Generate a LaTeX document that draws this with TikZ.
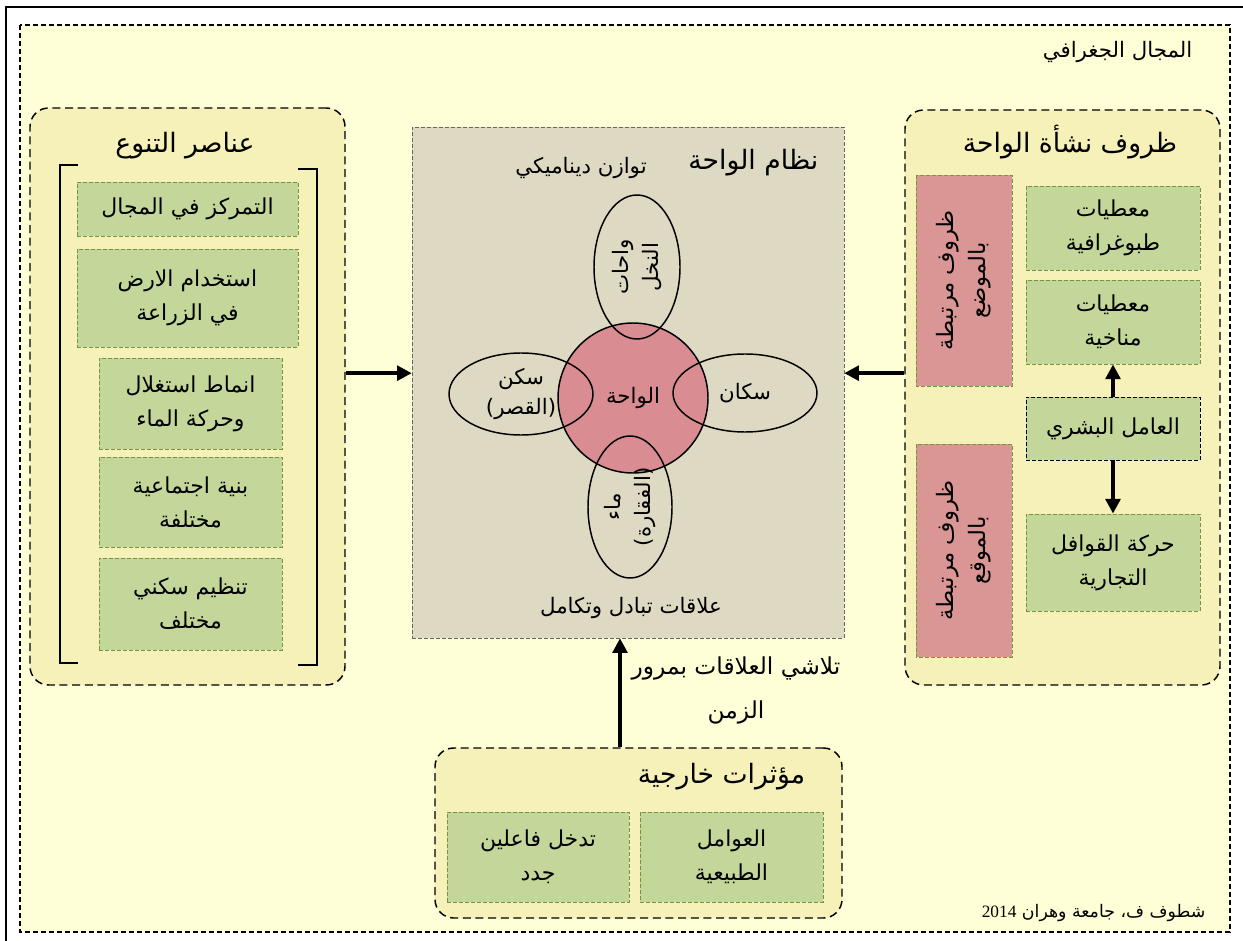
\documentclass[tikz,border=0pt]{standalone}
\usepackage{fontspec}
\usepackage{tikz}
\usetikzlibrary{shapes.geometric,arrows.meta}
\TeXXeTstate=1
\setmainfont{Liberation Serif}
\newfontfamily\arabicfont[Script=Arabic]{DejaVu Sans}
\newcommand{\artxt}[1]{{\arabicfont\beginR #1\endR}}
\definecolor{paper}{RGB}{255,255,215}
\definecolor{groupfill}{RGB}{246,241,184}
\definecolor{greenfill}{RGB}{196,215,155}
\definecolor{greenline}{RGB}{119,147,60}
\definecolor{pinkfill}{RGB}{217,150,148}
\definecolor{systemfill}{RGB}{221,217,195}
\definecolor{oasisfill}{RGB}{217,140,146}

\begin{document}
\begin{tikzpicture}[x=0.75pt,y=-0.75pt,
  groupbox/.style={draw,dash pattern=on 6pt off 3.5pt,line width=1.1pt,rounded corners=14pt,fill=groupfill,inner sep=0pt},
  itembox/.style={draw=greenline,dash pattern=on 3pt off 1.5pt,line width=0.6pt,fill=greenfill,align=center,inner sep=0pt,font=\fontsize{16.5}{25.5}\selectfont},
  pinkbox/.style={itembox,fill=pinkfill,rotate=90,font=\fontsize{17}{24}\selectfont},
  petal/.style={draw,ellipse,line width=1.1pt,inner sep=0pt,align=center,font=\fontsize{16}{22}\selectfont},
  heading/.style={font=\fontsize{20}{24}\selectfont},
  plain/.style={font=\fontsize{16}{19}\selectfont},
  bigarrow/.style={line width=2.8pt,-{Triangle[length=11pt,width=11pt]}}]
\useasboundingbox (0,0) rectangle (1243,941);
\draw[line width=1.5pt] (6,941) -- (6,7) -- (1243,7);
\draw[dash pattern=on 4pt off 2pt,line width=1.4pt,fill=paper] (20,25) rectangle (1230,932);
\node[plain,anchor=east] (field) at (1197,52) {\artxt{المجال الجغرافي}};

\node[groupbox,minimum width=236.25pt,minimum height=432.75pt] (diversity) at (187.5,396.5) {};
\node[heading] (divtitle) at (185,146) {\artxt{عناصر التنوع}};
\draw[line width=1pt] (78,165) -- (60,165) -- (60,663) -- (78,663);
\draw[line width=1pt] (298,169) -- (317,169) -- (317,665) -- (298,665);
\node[itembox,minimum width=165.75pt,minimum height=40.5pt] (concentration) at (187.5,209) {\artxt{التمركز في المجال}};
\node[itembox,minimum width=165.75pt,minimum height=73.5pt] (landuse) at (187.5,298) {\artxt{استخدام الارض}\\\artxt{في الزراعة}};
\node[itembox,minimum width=137.25pt,minimum height=68.25pt] (watermode) at (190.5,403.5) {\artxt{انماط استغلال}\\\artxt{وحركة الماء}};
\node[itembox,minimum width=137.25pt,minimum height=67.5pt] (social) at (190.5,502) {\artxt{بنية اجتماعية}\\\artxt{مختلفة}};
\node[itembox,minimum width=137.25pt,minimum height=69pt] (housing) at (190.5,604) {\artxt{تنظيم سكني}\\\artxt{مختلف}};

\node[draw=black!60,dash pattern=on 3pt off 1.5pt,fill=systemfill,minimum width=324pt,minimum height=383.25pt,inner sep=0pt] (system) at (628,382.5) {};
\node[heading,anchor=east] (systitle) at (823,163) {\artxt{نظام الواحة}};
\node[plain] (balance) at (581,168) {\artxt{توازن ديناميكي}};
\node[circle,draw,line width=1.1pt,fill=oasisfill,minimum size=112.5pt,inner sep=0pt,plain] (oasis) at (633,398) {\artxt{الواحة}};
\node[petal,rotate=90,minimum width=108pt,minimum height=64.5pt] (palm) at (637,267) {\artxt{واحات}\\\artxt{النخل}};
\node[petal,rotate=90,minimum width=106.5pt,minimum height=63pt] (water) at (630,507) {\artxt{ماء}\\\artxt{(الفقارة)}};
\node[petal,minimum width=108pt,minimum height=61.5pt] (ksar) at (521,394) {\artxt{سكن}\\\artxt{(القصر)}};
\node[petal,minimum width=108pt,minimum height=58.5pt] (people) at (745,393) {\artxt{سكان}};
\node[plain] (exchange) at (631,608) {\artxt{علاقات تبادل وتكامل}};

\node[groupbox,minimum width=236.25pt,minimum height=431.25pt] (genesis) at (1062.5,397.5) {};
\node[heading] (gentitle) at (1070,142) {\artxt{ظروف نشأة الواحة}};
\node[pinkbox,minimum width=158.25pt,minimum height=72pt] (site) at (964,280.5) {\artxt{ظروف مرتبطة}\\\artxt{بالموضع}};
\node[pinkbox,minimum width=159.75pt,minimum height=72pt] (location) at (964,550.5) {\artxt{ظروف مرتبطة}\\\artxt{بالموقع}};
\node[itembox,minimum width=130.5pt,minimum height=63pt] (topo) at (1113,228) {\artxt{معطيات}\\\artxt{طبوغرافية}};
\node[itembox,minimum width=130.5pt,minimum height=63pt] (climate) at (1113,322) {\artxt{معطيات}\\\artxt{مناخية}};
\node[itembox,draw=black,minimum width=130.5pt,minimum height=47.25pt] (human) at (1113,428.5) {\artxt{العامل البشري}};
\node[itembox,minimum width=130.5pt,minimum height=72.75pt] (caravan) at (1113,562.5) {\artxt{حركة القوافل}\\\artxt{التجارية}};
\draw[bigarrow] (human) -- (climate);
\draw[bigarrow] (human) -- (caravan);

\node[groupbox,minimum width=305.25pt,minimum height=127.5pt] (external) at (638.5,833) {};
\node[heading,anchor=east] (exttitle) at (810,777) {\artxt{مؤثرات خارجية}};
\node[itembox,minimum width=137.25pt,minimum height=67.5pt] (natural) at (731.5,857) {\artxt{العوامل}\\\artxt{الطبيعية}};
\node[itembox,minimum width=136.5pt,minimum height=67.5pt] (actors) at (538,857) {\artxt{تدخل فاعلين}\\\artxt{جدد}};
\node[align=center,font=\fontsize{17.5}{33}\selectfont] (fade) at (736,690) {\artxt{تلاشي العلاقات بمرور}\\\artxt{الزمن}};

\coordinate (lin) at ([yshift=7pt]system.west);
\coordinate (rin) at ([yshift=7pt]system.east);
\coordinate (bin) at ([xshift=-6pt]system.south);
\draw[bigarrow] (lin -| diversity.east) -- (lin);
\draw[bigarrow] (rin -| genesis.west) -- (rin);
\draw[bigarrow] (bin |- external.north) -- (bin);

\node[font=\fontsize{13}{15}\selectfont,anchor=east] (source) at (1210,913) {\artxt{شطوف ف، جامعة وهران \beginL{\rmfamily 2014}\endL}};
\end{tikzpicture}
\end{document}
